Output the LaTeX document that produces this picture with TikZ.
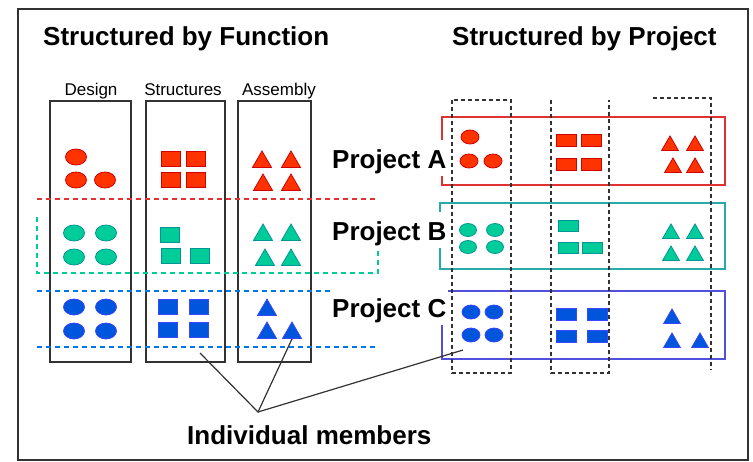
\documentclass[tikz,border=0pt]{standalone}
\usepackage{fontspec}
\setmainfont{Liberation Sans}
\usepackage{tikz}
\usetikzlibrary{shapes.geometric}
\definecolor{fillA}{RGB}{255, 51, 0}
\definecolor{edgeA}{RGB}{210, 0, 0}
\definecolor{boxA}{RGB}{225, 50, 50}
\definecolor{fillB}{RGB}{0, 204, 153}
\definecolor{edgeB}{RGB}{0, 150, 150}
\definecolor{boxB}{RGB}{40, 170, 170}
\definecolor{fillC}{RGB}{0, 85, 221}
\definecolor{edgeC}{RGB}{60, 70, 255}
\definecolor{boxC}{RGB}{80, 80, 220}
\definecolor{framegray}{RGB}{50, 50, 50}

\begin{document}
\begin{tikzpicture}[x=1pt, y=-1pt,
    title/.style={font=\fontsize{26}{30}\selectfont\bfseries, inner sep=0pt},
    collabel/.style={font=\fontsize{17}{20}\selectfont, inner sep=0pt, anchor=base},
    projlabel/.style={title, fill=white, inner xsep=1.5pt, inner ysep=8pt, text height=20pt, text depth=0pt, anchor=base east},
    colbox/.style={draw=framegray, line width=1.5pt},
    colframe/.style={draw=framegray, line width=1.4pt, dash pattern=on 4pt off 3pt},
    rowline/.style={line width=1.3pt, dash pattern=on 5pt off 4pt},
    projA/.style={fill=fillA, draw=edgeA},
    projB/.style={fill=fillB, draw=edgeB},
    projC/.style={fill=fillC, draw=edgeC},
    memell/.style={ellipse, inner sep=0pt, line width=0.8pt, minimum width=21pt, minimum height=16pt},
    memsq/.style={rectangle, inner sep=0pt, line width=0.8pt, minimum width=19pt, minimum height=15pt},
    memtri/.style={regular polygon, regular polygon sides=3, inner sep=0pt, line width=0.8pt, minimum size=22pt, yshift=-3pt},
    smell/.style={memell, minimum width=18pt, minimum height=14pt},
    smrect/.style={memsq, minimum width=20pt, minimum height=12pt},
    smtri/.style={memtri, minimum size=19.5pt, yshift=-2.7pt}
  ]
  \useasboundingbox (0,0) rectangle (753,461);
  \draw[draw=framegray, line width=2pt] (18,9) rectangle (748,460);

  \node[title, anchor=base west] (func-title) at (43,45) {Structured by Function};
  \node[title, anchor=base west] (proj-title) at (452,45) {Structured by Project};

  \node[collabel] (design-lbl) at (91,95) {Design};
  \node[collabel] (struct-lbl) at (183,95) {Structures};
  \node[collabel] (assy-lbl) at (279,95) {Assembly};

  \draw[colbox] (50,101) rectangle (131,362);
  \draw[colbox] (146,101) rectangle (225,362);
  \draw[colbox] (238,101) rectangle (311,362);

  \draw[rowline, boxA] (37,199) -- (377,199);
  \draw[rowline, fillB] (37,217) -- (37,273) -- (378,273) -- (378,217);
  \draw[rowline, fillC!80!cyan] (37,291) -- (378,291);
  \draw[rowline, fillC!80!cyan] (37,347) -- (378,347);

  \draw[boxA, line width=1.4pt] (442,117) rectangle (725,185);
  \draw[boxB, line width=1.4pt] (440,203) rectangle (725,269);
  \draw[boxC, line width=1.4pt] (442,291) rectangle (725,359);

  \node[projlabel] (proj-a) at (448,168) {Project A};
  \node[projlabel] (proj-b) at (448,240) {Project B};
  \node[projlabel] (proj-c) at (448,317) {Project C};

  \draw[colframe] (452,100) rectangle (511,373);
  \draw[colframe] (551,100) -- (551,373) -- (609,373) -- (609,100);
  \draw[colframe] (653,98) -- (711,98) -- (711,370);

  % structured by function
  \foreach \x/\y [count=\i] in {76/157, 76/180, 105/180}
    \node[memell, projA] (funA-ell\i) at (\x,\y) {};
  \foreach \x/\y [count=\i] in {171/159, 196/159, 171/180, 196/180}
    \node[memsq, projA] (funA-sq\i) at (\x,\y) {};
  \foreach \x/\y [count=\i] in {262/159, 291/159, 263/182, 291/182}
    \node[memtri, projA] (funA-tri\i) at (\x,\y) {};

  \foreach \x/\y [count=\i] in {74/233, 106/233, 74/257, 106/257}
    \node[memell, projB] (funB-ell\i) at (\x,\y) {};
  \foreach \x/\y [count=\i] in {170/235, 171/256, 200/256}
    \node[memsq, projB] (funB-sq\i) at (\x,\y) {};
  \foreach \x/\y [count=\i] in {263/232, 291/232, 265/257, 291/257}
    \node[memtri, projB] (funB-tri\i) at (\x,\y) {};

  \foreach \x/\y [count=\i] in {74/307, 106/307, 74/331, 106/331}
    \node[memell, projC] (funC-ell\i) at (\x,\y) {};
  \foreach \x/\y [count=\i] in {168/307, 199/307, 168/330, 199/330}
    \node[memsq, projC] (funC-sq\i) at (\x,\y) {};
  \foreach \x/\y [count=\i] in {267/307, 267/330, 292/330}
    \node[memtri, projC] (funC-tri\i) at (\x,\y) {};

  % structured by project
  \foreach \x/\y [count=\i] in {470/137, 469/161, 493/161}
    \node[smell, projA] (prjA-ell\i) at (\x,\y) {};
  \foreach \x/\y [count=\i] in {566/140, 591/140, 566/164, 591/164}
    \node[smrect, projA] (prjA-rect\i) at (\x,\y) {};
  \foreach \x/\y [count=\i] in {670/140, 695/140, 673/162, 695/162}
    \node[smtri, projA] (prjA-tri\i) at (\x,\y) {};

  \foreach \x/\y [count=\i] in {468/230, 495/230, 468/247, 495/247}
    \node[smell, projB, minimum width=17pt, minimum height=13pt] (prjB-ell\i) at (\x,\y) {};
  \foreach \x/\y [count=\i] in {568/226, 568/248, 592/248}
    \node[smrect, projB, minimum height=11pt] (prjB-rect\i) at (\x,\y) {};
  \foreach \x/\y [count=\i] in {671/228, 695/228, 671/250, 695/250}
    \node[smtri, projB] (prjB-tri\i) at (\x,\y) {};

  \foreach \x/\y [count=\i] in {471/312, 494/312, 471/335, 494/335}
    \node[smell, projC] (prjC-ell\i) at (\x,\y) {};
  \foreach \x/\y [count=\i] in {566/314, 597/314, 566/336, 597/336}
    \node[smrect, projC] (prjC-rect\i) at (\x,\y) {};
  \foreach \x/\y [count=\i] in {672/313, 672/337, 700/337}
    \node[smtri, projC] (prjC-tri\i) at (\x,\y) {};

  \node[title, anchor=base west] (members) at (187,444) {Individual members};
  \coordinate (meet) at (258,412);
  \coordinate (struct-pt) at (200,353);
  \coordinate (prjC-pt) at (463,350);
  \draw[framegray, line width=1.2pt] (struct-pt) -- (meet) -- (funC-tri3.south);
  \draw[framegray, line width=1.2pt] (meet) -- (prjC-pt);
\end{tikzpicture}
\end{document}
